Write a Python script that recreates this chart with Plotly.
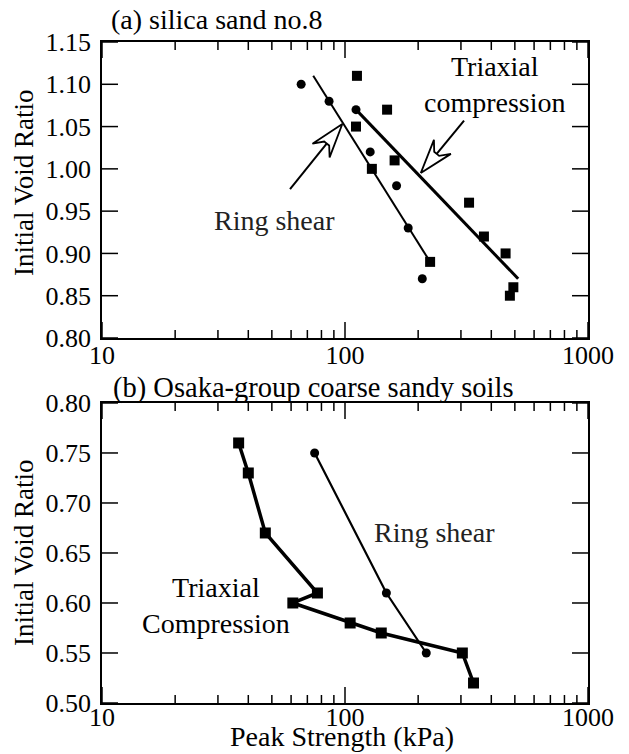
import math
import plotly.graph_objects as go

# ---------------- data ----------------
# (a) silica sand no.8
ring_a_x = [66, 86, 111, 127, 163, 182, 208]
ring_a_y = [1.10, 1.08, 1.07, 1.02, 0.98, 0.93, 0.87]
tri_a_x = [112, 111, 149, 129, 160, 224, 324, 373, 458, 493, 477]
tri_a_y = [1.11, 1.05, 1.07, 1.00, 1.01, 0.89, 0.96, 0.92, 0.90, 0.86, 0.85]
ring_a_fit_x = [74, 224]
ring_a_fit_y = [1.11, 0.89]
tri_a_fit_x = [111, 516]
tri_a_fit_y = [1.07, 0.87]

# (b) Osaka-group coarse sandy soils
tri_b_x = [36.5, 40, 47, 77, 61, 105, 141, 304, 338]
tri_b_y = [0.76, 0.73, 0.67, 0.61, 0.60, 0.58, 0.57, 0.55, 0.52]
ring_b_x = [75, 148, 216]
ring_b_y = [0.75, 0.61, 0.55]

# arrows in panel (a): (tail, tip) in data units
arrow_ring_a = [(59.4, 0.976), (97.5, 1.053)]
arrow_tri_a = [(309, 1.057), (205, 0.995)]

# ticks
x_major = [10, 100, 1000]
x_major_text = ["10", "100", "1000"]
x_minor = [20, 30, 40, 50, 60, 70, 80, 90, 200, 300, 400, 500, 600, 700, 800, 900]
ya_ticks = [0.80, 0.85, 0.90, 0.95, 1.00, 1.05, 1.10, 1.15]
yb_ticks = [0.50, 0.55, 0.60, 0.65, 0.70, 0.75, 0.80]

# ---------------- layout geometry ----------------
PAGE_OFF = 8  # default body margin of the html page
W, H = 621, 746
M = dict(l=94, r=41, t=34, b=51, autoexpand=False)
FONT = "Liberation Serif"
X_RANGE = [1, 3]
YA_RANGE = [0.80, 1.15]
YB_RANGE = [0.50, 0.80]
DOM_A = [0.5522, 1.0]
DOM_B = [0.0, 0.4539]
plot_w = W - M["l"] - M["r"]
plot_h = H - M["t"] - M["b"]
MAJOR_LEN = 16
MINOR_LEN = 8
TICK_COLOR = "black"
TICK_W = 1.5


def to_px(x, y, yr, dom):
    px = (math.log10(x) - X_RANGE[0]) / (X_RANGE[1] - X_RANGE[0]) * plot_w
    ytop = (1 - dom[1]) * plot_h
    ybot = (1 - dom[0]) * plot_h
    py = ytop + (yr[1] - y) / (yr[1] - yr[0]) * (ybot - ytop)
    return px, py


def to_data(px, py, yr, dom):
    x = 10 ** (X_RANGE[0] + px / plot_w * (X_RANGE[1] - X_RANGE[0]))
    ytop = (1 - dom[1]) * plot_h
    ybot = (1 - dom[0]) * plot_h
    y = yr[1] - (py - ytop) / (ybot - ytop) * (yr[1] - yr[0])
    return x, y


def hollow_arrow(tail, tip, yr, dom):
    tx, ty = to_px(*tail, yr, dom)
    hx, hy = to_px(*tip, yr, dom)
    dx, dy = hx - tx, hy - ty
    L = math.hypot(dx, dy)
    ux, uy = dx / L, dy / L
    nx, ny = -uy, ux
    head_len, notch, half_w, half_n = 34, 25, 11, 3.2
    pts = [
        (hx, hy),
        (hx - head_len * ux + half_w * nx, hy - head_len * uy + half_w * ny),
        (hx - notch * ux + half_n * nx, hy - notch * uy + half_n * ny),
        (hx - notch * ux - half_n * nx, hy - notch * uy - half_n * ny),
        (hx - head_len * ux - half_w * nx, hy - head_len * uy - half_w * ny),
        (hx, hy),
    ]
    head = [to_data(px, py, yr, dom) for px, py in pts]
    shaft_end = to_data(hx - notch * ux, hy - notch * uy, yr, dom)
    shaft = [tail, shaft_end]
    return head, shaft


def tick_marks(yt, yr, dom):
    """Inside tick marks on all four sides, in data units of the panel."""
    xs, ys = [], []
    span_x = X_RANGE[1] - X_RANGE[0]
    xl = 10 ** (X_RANGE[0] + MAJOR_LEN / plot_w * span_x)
    xr = 10 ** (X_RANGE[1] - MAJOR_LEN / plot_w * span_x)
    for v in yt:
        xs += [10 ** X_RANGE[0], xl, None, xr, 10 ** X_RANGE[1], None]
        ys += [v, v, None, v, v, None]
    h_px = (dom[1] - dom[0]) * plot_h
    for vals, ln in ((x_major, MAJOR_LEN), (x_minor, MINOR_LEN)):
        dy = ln / h_px * (yr[1] - yr[0])
        for v in vals:
            xs += [v, v, None, v, v, None]
            ys += [yr[0], yr[0] + dy, None, yr[1] - dy, yr[1], None]
    return xs, ys


fig = go.Figure()

# ----- panel (a)
fig.add_trace(go.Scatter(x=ring_a_fit_x, y=ring_a_fit_y, mode="lines",
                         line=dict(color="black", width=2), xaxis="x", yaxis="y"))
fig.add_trace(go.Scatter(x=tri_a_fit_x, y=tri_a_fit_y, mode="lines",
                         line=dict(color="black", width=3), xaxis="x", yaxis="y"))
fig.add_trace(go.Scatter(x=ring_a_x, y=ring_a_y, mode="markers",
                         marker=dict(symbol="circle", size=9, color="black"),
                         xaxis="x", yaxis="y"))
fig.add_trace(go.Scatter(x=tri_a_x, y=tri_a_y, mode="markers",
                         marker=dict(symbol="square", size=10, color="black"),
                         xaxis="x", yaxis="y"))

for arr in (arrow_ring_a, arrow_tri_a):
    head, shaft = hollow_arrow(arr[0], arr[1], YA_RANGE, DOM_A)
    fig.add_trace(go.Scatter(x=[p[0] for p in shaft], y=[p[1] for p in shaft], mode="lines",
                             line=dict(color="black", width=2), xaxis="x", yaxis="y"))
    fig.add_trace(go.Scatter(x=[p[0] for p in head], y=[p[1] for p in head], mode="lines",
                             fill="toself", fillcolor="white",
                             line=dict(color="black", width=1.8), xaxis="x", yaxis="y"))

# ----- panel (b)
fig.add_trace(go.Scatter(x=ring_b_x, y=ring_b_y, mode="lines+markers",
                         line=dict(color="black", width=2.2),
                         marker=dict(symbol="circle", size=9, color="black"),
                         xaxis="x2", yaxis="y2"))
fig.add_trace(go.Scatter(x=tri_b_x, y=tri_b_y, mode="lines+markers",
                         line=dict(color="black", width=3.5),
                         marker=dict(symbol="square", size=11, color="black"),
                         xaxis="x2", yaxis="y2"))

# ----- tick marks
for xa, ya, yt, yr, dom in (("x", "y", ya_ticks, YA_RANGE, DOM_A), ("x2", "y2", yb_ticks, YB_RANGE, DOM_B)):
    tx, ty = tick_marks(yt, yr, dom)
    fig.add_trace(go.Scatter(x=tx, y=ty, mode="lines", line=dict(color=TICK_COLOR, width=TICK_W),
                             connectgaps=False, hoverinfo="skip", xaxis=xa, yaxis=ya))

tickfont = dict(family=FONT, size=26, color="black")
common = dict(showline=True, linecolor="black", linewidth=1.5, mirror=True,
              ticks="", showgrid=False, zeroline=False, tickfont=tickfont)
xcommon = dict(common, type="log", range=X_RANGE, tickmode="array",
               tickvals=x_major, ticktext=x_major_text, domain=[0, 1])

fig.update_layout(
    width=W, height=H, margin=M, paper_bgcolor="white", plot_bgcolor="white",
    showlegend=False, template="none",
    xaxis=dict(xcommon, anchor="y", ticklabelstandoff=-7),
    xaxis2=dict(xcommon, anchor="y2", ticklabelstandoff=-10),
    yaxis=dict(common, range=YA_RANGE, tickmode="array", tickvals=ya_ticks,
               ticktext=[f"{v:.2f}" for v in ya_ticks], domain=DOM_A,
               anchor="x", ticklabelstandoff=4),
    yaxis2=dict(common, range=YB_RANGE, tickmode="array", tickvals=yb_ticks,
                ticktext=[f"{v:.2f}" for v in yb_ticks], domain=DOM_B,
                anchor="x2", ticklabelstandoff=4),
)

ann_font = dict(family=FONT, size=28, color="black")


def paper_x(px):
    return (px - PAGE_OFF - M["l"]) / plot_w


def paper_y(py):
    return (H - M["b"] - (py - PAGE_OFF)) / plot_h


annotations = [
    dict(text="(a) silica sand no.8", xref="paper", yref="paper", x=paper_x(110), y=paper_y(20),
         xanchor="left", yanchor="middle", showarrow=False, borderpad=0,
         font=dict(family=FONT, size=28, color="black")),
    dict(text="(b) Osaka-group coarse sandy soils", xref="paper", yref="paper", x=paper_x(111),
         y=paper_y(388), xanchor="left", yanchor="middle", showarrow=False,
         font=dict(family=FONT, size=28.5, color="black")),
    dict(text="Initial Void Ratio", xref="paper", yref="paper", x=paper_x(24), y=paper_y(183),
         textangle=-90, xanchor="center", yanchor="middle", showarrow=False,
         font=dict(family=FONT, size=27, color="black")),
    dict(text="Initial Void Ratio", xref="paper", yref="paper", x=paper_x(24), y=paper_y(553),
         textangle=-90, xanchor="center", yanchor="middle", showarrow=False,
         font=dict(family=FONT, size=27, color="black")),
    dict(text="Peak Strength (kPa)", xref="paper", yref="paper", x=paper_x(342), y=paper_y(736),
         xanchor="center", yanchor="middle", showarrow=False, borderpad=0, font=ann_font),
    dict(text="Triaxial<br>compression", xref="x", yref="y", x=math.log10(414), y=1.0992,
         xanchor="center", yanchor="middle", showarrow=False, font=ann_font),
    dict(text="Ring shear", xref="x", yref="y", x=math.log10(51.5), y=0.9386,
         xanchor="center", yanchor="middle", showarrow=False, font=dict(family=FONT, size=28, color="#222")),
    dict(text="Ring shear", xref="x2", yref="y2", x=math.log10(234), y=0.670,
         xanchor="center", yanchor="middle", showarrow=False, font=dict(family=FONT, size=28, color="#222")),
    dict(text="Triaxial<br>Compression", xref="x2", yref="y2", x=math.log10(29.5), y=0.597,
         xanchor="center", yanchor="middle", showarrow=False, font=ann_font),
]
fig.update_layout(annotations=annotations)

fig.write_html("out.html")
